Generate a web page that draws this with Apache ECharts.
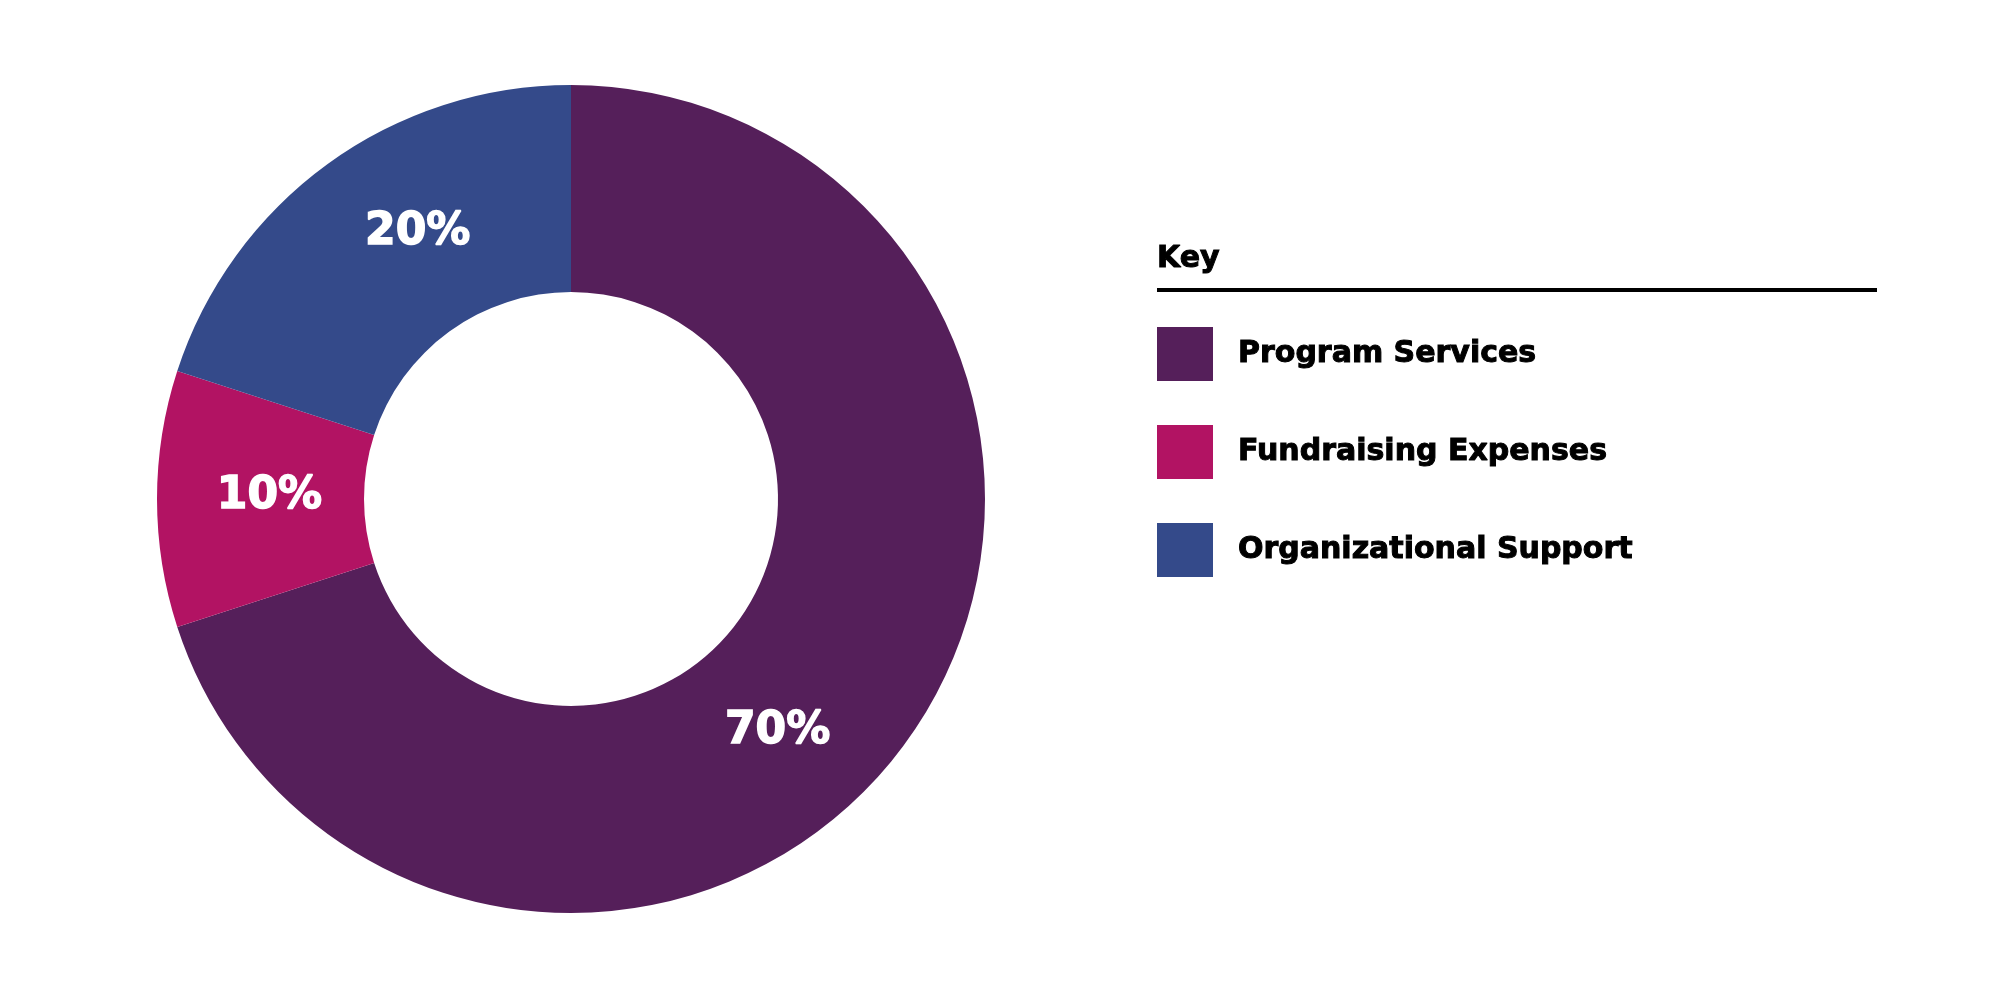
<!DOCTYPE html>
<html><head><meta charset="utf-8">
<script src="https://cdn.jsdelivr.net/npm/echarts@6/dist/echarts.min.js"></script>
<style>html,body{margin:0;padding:0;background:#fff}#c{width:2000px;height:1000px}</style>
</head><body><div id="c"></div>
<script>
const categories = ['Program Services', 'Fundraising Expenses', 'Organizational Support'];
const values = [70, 10, 20];
const colors = ['#551F5A', '#B21363', '#344A8A'];
const keyTitle = 'Key';
const FONT = '"DejaVu Sans", sans-serif';

// label nudges (styling only)
const labelNudge = [[-47, 48], [12, -2], [31, -13]];

const chart = echarts.init(document.getElementById('c'));
chart.setOption({
  backgroundColor: '#ffffff',
  animation: false,
  color: colors,
  legend: {
    orient: 'vertical',
    left: 1157,
    top: 327,
    padding: 0,
    icon: 'rect',
    itemWidth: 56,
    itemHeight: 54,
    itemGap: 44,
    data: categories,
    textStyle: { fontFamily: FONT, fontWeight: 'bold', fontSize: 30, color: '#000', textBorderColor: '#000', textBorderWidth: 1, padding: [0, 0, 0, 20] }
  },
  graphic: [
    { type: 'text', style: { x: 1157, y: 259, text: keyTitle, fontFamily: FONT, fontWeight: 'bold', fontSize: 30, fill: '#000', stroke: '#000', lineWidth: 1, verticalAlign: 'middle' } },
    { type: 'rect', shape: { x: 1157, y: 288, width: 720, height: 4 }, style: { fill: '#000' } }
  ],
  series: [{
    type: 'pie',
    center: [571, 499],
    radius: [207, 414],
    startAngle: 90,
    clockwise: true,
    avoidLabelOverlap: false,
    label: {
      show: true,
      position: 'inside',
      formatter: p => p.value + '%',
      color: '#fff',
      fontFamily: FONT,
      fontWeight: 'bold',
      fontSize: 44,
      textBorderColor: '#fff',
      textBorderWidth: 1.5
    },
    labelLine: { show: false },
    itemStyle: { borderWidth: 0 },
    emphasis: { disabled: true },
    data: categories.map((n, i) => ({ name: n, value: values[i], label: { offset: labelNudge[i] } }))
  }]
});
</script></body></html>
